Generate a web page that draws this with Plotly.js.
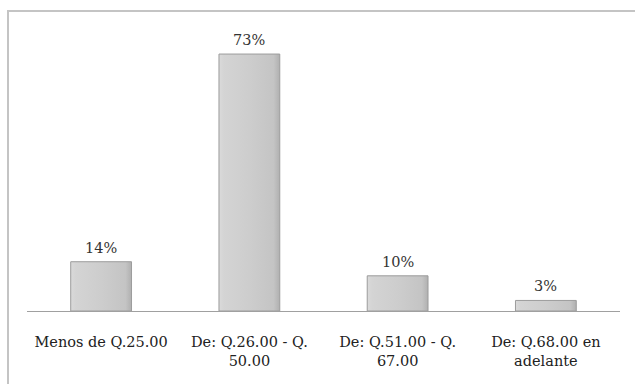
<!DOCTYPE html>
<html>
<head>
<meta charset="utf-8">
<script src="https://cdn.plot.ly/plotly-3.0.1.min.js"></script>
<style>
  html, body { margin: 0; padding: 0; background: #fff; overflow: hidden; }
  #wrap { position: relative; width: 635px; height: 384px; }
  #chart { position: absolute; left: 0; top: 0; width: 635px; height: 384px; }
  #frame {
    position: absolute; left: 7px; top: 10px; width: 700px; height: 500px;
    border-top: 2px solid #c4c4c4; border-left: 2px solid #c4c4c4;
    pointer-events: none;
  }
</style>
</head>
<body>
<div id="wrap">
  <div id="chart"></div>
  <div id="frame"></div>
</div>
<script>
// Spending ranges and share of respondents in each
const categories = [
  "Menos de Q.25.00",
  "De: Q.26.00 - Q.<br>50.00",
  "De: Q.51.00 - Q.<br>67.00",
  "De: Q.68.00 en<br>adelante"
];
const shares = [0.14, 0.73, 0.10, 0.03];
const shareLabels = ["14%", "73%", "10%", "3%"];

const serif = "DejaVu Serif";

const trace = {
  type: "bar",
  x: categories,
  y: shares,
  width: 0.41,
  marker: {
    color: "#cccccc",
    line: { color: "#9c9c9c", width: 1 }
  },
  hoverinfo: "skip"
};

// Value labels sit just above each bar
const labels = categories.map(function (c, i) {
  return {
    x: c,
    y: shares[i],
    xref: "x",
    yref: "y",
    text: shareLabels[i],
    showarrow: false,
    xanchor: "center",
    yanchor: "bottom",
    yshift: 4,
    font: { family: serif, size: 14.5, color: "#333333" }
  };
});

const layout = {
  width: 635,
  height: 384,
  margin: { l: 27, r: 15, t: 20, b: 73 },
  paper_bgcolor: "#ffffff",
  plot_bgcolor: "#ffffff",
  showlegend: false,
  bargap: 0.59,
  annotations: labels,
  xaxis: {
    type: "category",
    showgrid: false,
    zeroline: false,
    showline: true,
    linecolor: "#a0a0a0",
    linewidth: 1,
    ticks: "",
    tickfont: { family: serif, size: 14.5, color: "#222222" },
    ticklabelstandoff: 18
  },
  yaxis: {
    range: [0, 0.8267],
    visible: false,
    showgrid: false,
    zeroline: false
  }
};

Plotly.newPlot("chart", [trace], layout, { staticPlot: true, displayModeBar: false }).then(function (gd) {
  // Give the bars a soft bevelled gray fill
  const svg = gd.querySelector("svg.main-svg");
  const ns = "http://www.w3.org/2000/svg";
  let defs = svg.querySelector("defs");
  if (!defs) { defs = document.createElementNS(ns, "defs"); svg.insertBefore(defs, svg.firstChild); }
  const grad = document.createElementNS(ns, "linearGradient");
  grad.setAttribute("id", "barShade");
  grad.setAttribute("x1", "0"); grad.setAttribute("y1", "0");
  grad.setAttribute("x2", "1"); grad.setAttribute("y2", "0");
  [["0", "#dadada"], ["0.08", "#d4d4d4"], ["0.5", "#cdcdcd"], ["0.9", "#c4c4c4"], ["1", "#b0b0b0"]].forEach(function (s) {
    const st = document.createElementNS(ns, "stop");
    st.setAttribute("offset", s[0]);
    st.setAttribute("stop-color", s[1]);
    grad.appendChild(st);
  });
  defs.appendChild(grad);
  gd.querySelectorAll(".bars .point path").forEach(function (p) {
    p.style.fill = "url(#barShade)";
  });
});
</script>
</body>
</html>
